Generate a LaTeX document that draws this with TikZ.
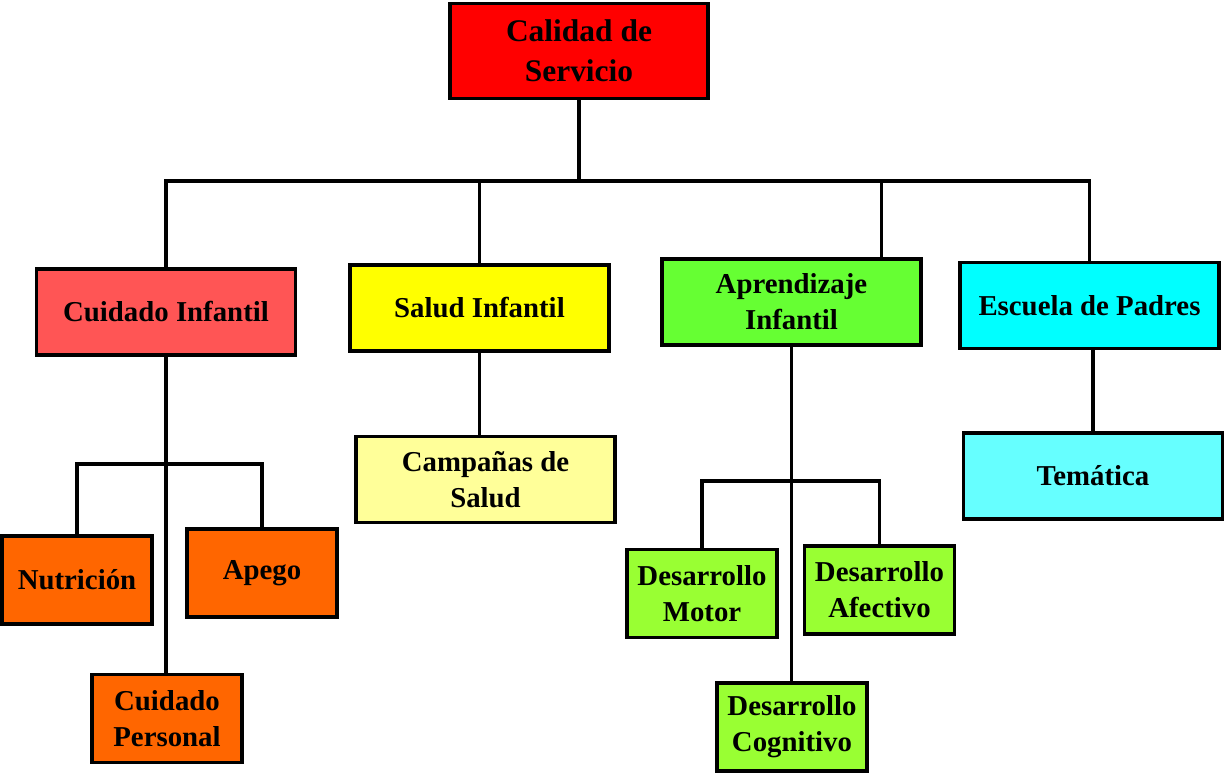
\documentclass[tikz,border=0pt]{standalone}
\usepackage{fontspec}
\setmainfont{Liberation Serif}
\usepackage{xcolor}
\usepackage{tikz}

\newlength\px
\setlength\px{0.02cm}

\definecolor{rojo}{HTML}{FF0000}
\definecolor{cuidado}{HTML}{FF5555}
\definecolor{amarillo}{HTML}{FFFF00}
\definecolor{campanas}{HTML}{FFFF99}
\definecolor{aprendizaje}{HTML}{66FF33}
\definecolor{desarrollo}{HTML}{99FF33}
\definecolor{escuela}{HTML}{00FFFF}
\definecolor{tematica}{HTML}{66FFFF}
\definecolor{naranja}{HTML}{FF6600}

\begin{document}
\begin{tikzpicture}[x=0.02cm,y=-0.02cm,
	caja/.style={draw=black,line width=2pt,inner sep=0pt,align=center,
		font=\bfseries\fontsize{16.4}{20.5}\selectfont},
	grande/.style={caja,minimum width=259\px,minimum height=86\px},
	chica/.style={caja,minimum width=150\px,minimum height=88\px},
	linea/.style={draw=black,line width=2pt}]
	\useasboundingbox (0,0) rectangle (1225,777);

	\node[caja,fill=rojo,minimum width=258\px,minimum height=95\px,
		font=\bfseries\fontsize{17.9}{22.5}\selectfont,name=calidad] at (579,51) {Calidad de\\Servicio};
	\node[grande,fill=cuidado,name=cuidado] at (166,312) {Cuidado Infantil};
	\node[grande,fill=amarillo,name=salud] at (479.5,308) {Salud Infantil};
	\node[grande,fill=aprendizaje,name=aprendizaje] at (791.5,302) {Aprendizaje\\Infantil};
	\node[grande,fill=escuela,name=escuela] at (1089.5,305.5) {Escuela de Padres};
	\node[grande,fill=campanas,name=campanas] at (485.5,479.5) {Campañas de\\Salud};
	\node[grande,fill=tematica,name=tematica] at (1093,476) {Temática};
	\node[chica,fill=naranja,name=nutricion] at (77,580) {Nutrición};
	\node[chica,fill=naranja,name=apego] at (262,573) {Apego};
	\node[chica,fill=naranja,name=personal] at (167,718.5) {Cuidado\\Personal};
	\node[chica,fill=desarrollo,name=motor] at (702,593.5) {Desarrollo\\Motor};
	\node[chica,fill=desarrollo,name=afectivo] at (879.5,590) {Desarrollo\\Afectivo};
	\node[chica,fill=desarrollo,name=cognitivo] at (792,727) {Desarrollo\\Cognitivo};

	% barras horizontales
	\coordinate (bus) at (0,181);
	\coordinate (ramaC) at (0,464);
	\coordinate (ramaA) at (0,481);

	\path[linea] (calidad.south) -- (calidad.south |- bus)
		(cuidado.north) -- (cuidado.north |- bus) -- (escuela.north |- bus) -- (escuela.north)
		(salud.north) -- (salud.north |- bus)
		([xshift=90\px]aprendizaje.north) -- ([xshift=90\px]aprendizaje.north |- bus);

	\path[linea] (cuidado.south) -- (cuidado.south |- personal.north)
		(nutricion.north) -- (nutricion.north |- ramaC) -- (apego.north |- ramaC) -- (apego.north)
		(salud.south) -- (salud.south |- campanas.north)
		(aprendizaje.south) -- (aprendizaje.south |- cognitivo.north)
		(motor.north) -- (motor.north |- ramaA) -- (afectivo.north |- ramaA) -- (afectivo.north)
		(tematica.north |- escuela.south) -- (tematica.north);
\end{tikzpicture}
\end{document}
